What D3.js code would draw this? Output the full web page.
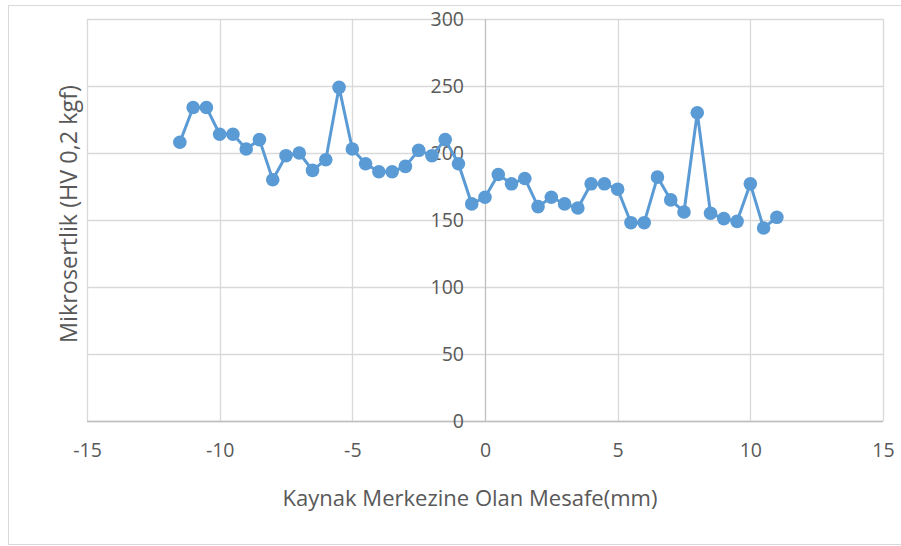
<!DOCTYPE html>
<html><head><meta charset="utf-8">
<script src="https://cdn.jsdelivr.net/npm/d3@7/dist/d3.min.js"></script>
<style>
html,body{margin:0;padding:0;background:#fff;}
svg{display:block;}
text{font-family:"Open Sans","Noto Sans",sans-serif;fill:#595959;}
</style></head>
<body>
<svg id="chart" width="901" height="546"></svg>
<script>
const distances = [-11.5,-11,-10.5,-10,-9.5,-9,-8.5,-8,-7.5,-7,-6.5,-6,-5.5,-5,-4.5,-4,-3.5,-3,-2.5,-2,-1.5,-1,-0.5,0,0.5,1,1.5,2,2.5,3,3.5,4,4.5,5,5.5,6,6.5,7,7.5,8,8.5,9,9.5,10,10.5,11];
const hardness  = [208,234,234,214,214,203,210,180,198,200,187,195,249,203,192,186,186,190,202,198,210,192,162,167,184,177,181,160,167,162,159,177,177,173,148,148,182,165,156,230,155,151,149,177,144,152];
const xTicks = [-15,-10,-5,0,5,10,15];
const yTicks = [0,50,100,150,200,250,300];
const xTitle = "Kaynak Merkezine Olan Mesafe(mm)";
const yTitle = "Mikrosertlik (HV 0,2 kgf)";

const svg = d3.select("#chart");
const L = 87, R = 883, T = 19, B = 421;
const x = d3.scaleLinear().domain([-15,15]).range([L,R]);
const y = d3.scaleLinear().domain([0,300]).range([B,T]);

// outer frame
svg.append("rect").attr("x",8.5).attr("y",5.5).attr("width",900).attr("height",539)
  .attr("fill","#fff").attr("stroke","#d9d9d9").attr("stroke-width",1);

// grid
const g = svg.append("g");
g.selectAll(".hg").data(yTicks).join("line")
  .attr("x1",L).attr("x2",R).attr("y1",d=>Math.round(y(d))+0.5).attr("y2",d=>Math.round(y(d))+0.5)
  .attr("stroke","#d9d9d9").attr("stroke-width",1.3);
g.selectAll(".vg").data(xTicks).join("line")
  .attr("y1",T).attr("y2",B).attr("x1",d=>Math.round(x(d))+0.5).attr("x2",d=>Math.round(x(d))+0.5)
  .attr("stroke",d=>d===0?"#bfbfbf":"#d9d9d9").attr("stroke-width",1.3);
// x axis line
g.append("line").attr("x1",L).attr("x2",R).attr("y1",Math.round(y(0))+0.5).attr("y2",Math.round(y(0))+0.5)
  .attr("stroke","#bfbfbf").attr("stroke-width",1.3);

// y tick labels near zero axis
const yAx = d3.axisLeft(y).tickValues(yTicks).tickSize(0).tickPadding(21);
const ya = svg.append("g").attr("transform",`translate(${x(0)},0)`).call(yAx);
ya.select(".domain").remove();
ya.selectAll("text").style("font-size","19.5px").attr("fill","#595959")
  .style("font-family","'Open Sans',sans-serif");

// x tick labels
const xAx = d3.axisBottom(x).tickValues(xTicks).tickSize(0).tickPadding(22).tickFormat(d3.format("d"));
const xa = svg.append("g").attr("transform",`translate(0,${B})`).call(xAx);
xa.select(".domain").remove();
xa.selectAll("text").style("font-size","19.5px").attr("fill","#595959")
  .style("font-family","'Open Sans',sans-serif")
  .text(d=>d<0?"-"+Math.abs(d):d);

// line + markers
const pts = distances.map((d,i)=>[d,hardness[i]]);
svg.append("path").datum(pts)
  .attr("d",d3.line().x(d=>x(d[0])).y(d=>y(d[1])))
  .attr("fill","none").attr("stroke","#5b9bd5").attr("stroke-width",3).attr("stroke-linejoin","round");
svg.selectAll(".pt").data(pts).join("circle")
  .attr("cx",d=>x(d[0])).attr("cy",d=>y(d[1])).attr("r",6.8).attr("fill","#5b9bd5");

// titles
function fit(t, w){
  const n = t.node(); let fs = parseFloat(t.style("font-size"));
  const cur = n.getComputedTextLength(); t.style("font-size",(fs*w/cur).toFixed(2)+"px");
}
const xt = svg.append("text").attr("x",470).attr("y",506).attr("text-anchor","middle")
  .style("font-size","18px").text(xTitle);
fit(xt,375);
const yt = svg.append("text").attr("transform","translate(77,214) rotate(-90)").attr("text-anchor","middle")
  .style("font-size","18px").text(yTitle);
fit(yt,258);
</script>
</body></html>
